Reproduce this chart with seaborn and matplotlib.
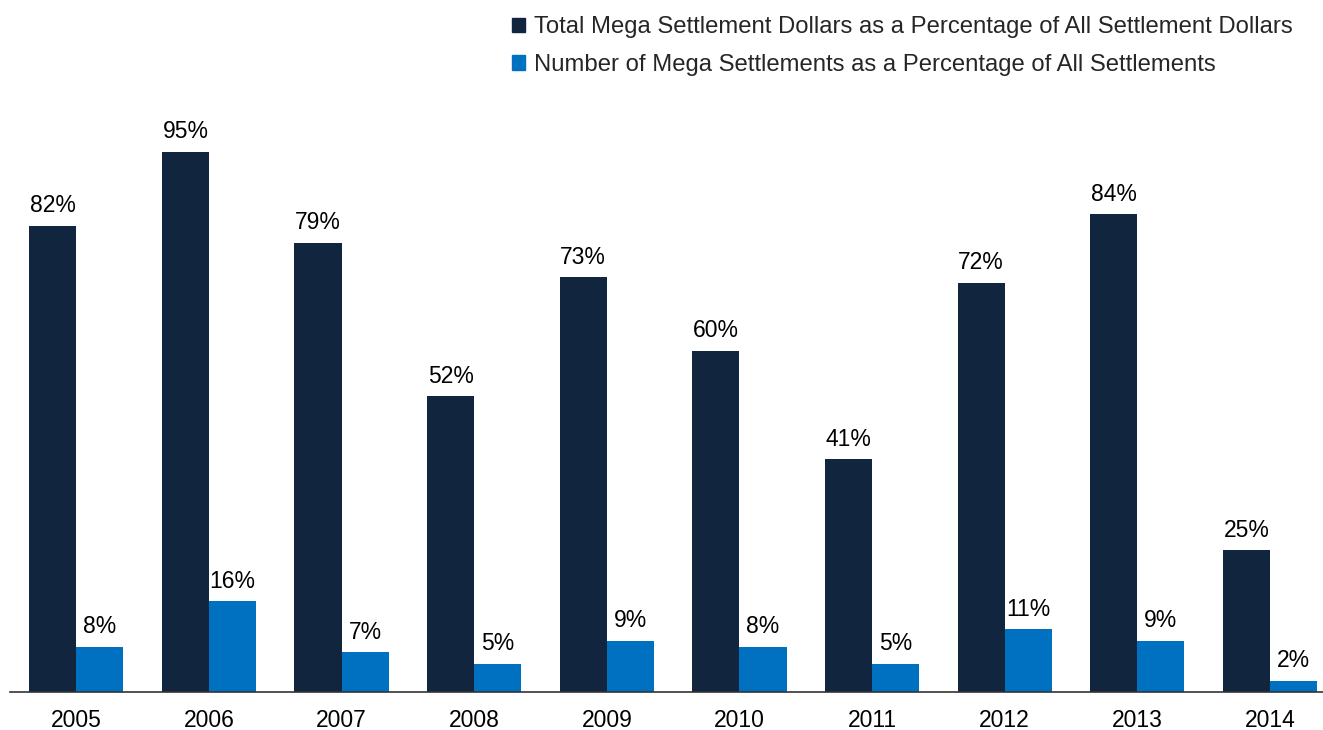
import pandas as pd
import matplotlib.pyplot as plt
import seaborn as sns
from matplotlib.patches import Patch

years = ["2005", "2006", "2007", "2008", "2009", "2010", "2011", "2012", "2013", "2014"]
dollars_pct = [82, 95, 79, 52, 73, 60, 41, 72, 84, 25]
count_pct = [8, 16, 7, 5, 9, 8, 5, 11, 9, 2]

series_dollars = "Total Mega Settlement Dollars as a Percentage of All Settlement Dollars"
series_count = "Number of Mega Settlements as a Percentage of All Settlements"

df = pd.DataFrame({
    "Year": years * 2,
    "Percent": dollars_pct + count_pct,
    "Series": [series_dollars] * len(years) + [series_count] * len(years),
})

sns.set_theme(style="white")
plt.rcParams["font.family"] = ["Liberation Sans", "DejaVu Sans"]

dark_color = "#12253F"
blue_color = "#0070C0"
palette = {series_dollars: dark_color, series_count: blue_color}

fig = plt.figure(figsize=(13.23, 7.30), dpi=100)
ax = fig.add_axes([10 / 1323, 38 / 730, 1313 / 1323, 692 / 730])

sns.barplot(data=df, x="Year", y="Percent", hue="Series", palette=palette,
            width=0.71, saturation=1, linewidth=0, ax=ax, legend=False)

for container in ax.containers:
    ax.bar_label(container, labels=[f"{v:.0f}%" for v in container.datavalues],
                 padding=6, fontsize=16.5, color="black")

ax.set_xlim(-0.5, 9.4)
ax.set_ylim(0, 121.7)
ax.set_xlabel("")
ax.set_ylabel("")
ax.set_yticks([])
ax.tick_params(axis="x", length=0, labelsize=16.5, pad=12, colors="black")
for side in ["left", "right", "top"]:
    ax.spines[side].set_visible(False)
ax.spines["bottom"].set_color("#333333")
ax.spines["bottom"].set_linewidth(1.2)

handles = [Patch(color=dark_color, label=series_dollars),
           Patch(color=blue_color, label=series_count)]
fig.legend(handles=handles, loc="upper left", bbox_to_anchor=(490 / 1323, 1 + 5 / 730),
           frameon=False, fontsize=17.2, handlelength=0.55, handleheight=0.55,
           handletextpad=0.4, labelspacing=0.65)

fig.savefig("out.png", dpi=100)
plt.close(fig)
